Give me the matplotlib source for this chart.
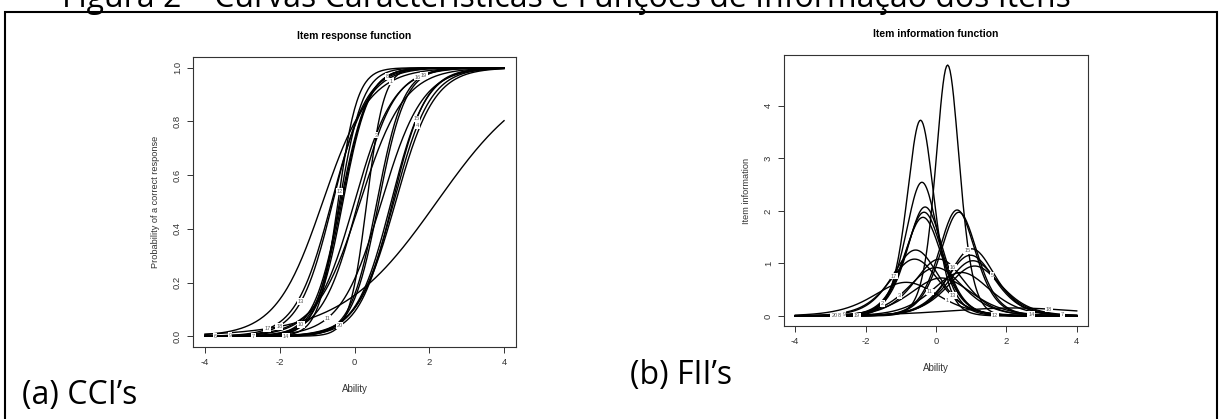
import numpy as np
import matplotlib
matplotlib.use('Agg')
import matplotlib.pyplot as plt
from matplotlib.patches import Rectangle

# 2PL item parameters (peak height a^2/4, peak position b)
items = list(range(1, 21))
a_par = [1.60, 2.88, 1.92, 2.05, 2.15, 3.19, 1.95, 2.74, 1.70, 2.81,
         1.82, 3.86, 2.24, 2.81, 2.26, 2.08, 2.08, 0.78, 2.84, 4.37]
b_par = [-0.85, -0.31, 0.00, 1.05, 0.98, -0.40, 1.10, -0.37, 0.15, -0.34,
         0.72, -0.44, -0.58, 0.65, 1.02, 0.10, -0.61, 2.20, 0.60, 0.33]

# ability where each item number is printed (nan = label hidden in the original)
lab_irf = [0.98, np.nan, 0.57, 1.68, np.nan, -3.73, -2.70, 0.87, -3.33, -1.44,
           -0.72, -0.40, -1.43, -1.83, 1.66, 1.70, -2.33, -2.01, 1.85, -0.40]
lab_iif = [0.32, -1.52, -1.04, np.nan, 1.59, np.nan, 3.60, -2.74, -2.62, np.nan,
           -0.17, 1.67, 0.48, 2.71, 0.89, 0.48, -1.20, 3.21, -2.25, -2.89]

x_ticks = [-4, -2, 0, 2, 4]

fig_title = "Figura 2 – Curvas Características e Funções de Informação dos Itens"

plt.rcParams['font.family'] = ['Liberation Sans', 'DejaVu Sans']

theta = np.linspace(-4, 4, 241)


def prob(t, a, b):
    return 1.0 / (1.0 + np.exp(-a * (t - b)))


def info(t, a, b):
    p = prob(t, a, b)
    return a * a * p * (1 - p)


fig = plt.figure(figsize=(12.22, 4.19), dpi=100)

# outer frame and the caption, which is cut at the top edge as in the scan
fig.add_artist(Rectangle((5 / 1222, -0.05), 1212 / 1222, 1.05 - 12 / 419,
                         transform=fig.transFigure, fill=False, lw=1.5, color='black'))
fig.text(62 / 1222, 1 - 7 / 419, fig_title, fontfamily='Open Sans', fontsize=23,
         va='baseline', ha='left')
fig.text(22 / 1222, 1 - 404 / 419, "(a) CCI’s", fontfamily='Open Sans', fontsize=23,
         va='baseline', ha='left')
fig.text(630 / 1222, 1 - 384 / 419, "(b) FII’s", fontfamily='Open Sans', fontsize=23,
         va='baseline', ha='left')

ax1 = fig.add_axes([193 / 1222, 1 - 347 / 419, 323 / 1222, 290 / 419])
ax2 = fig.add_axes([784 / 1222, 1 - 326 / 419, 304 / 1222, 271 / 419])


def panel(ax, fun, labs, title, ylabel, yticks, yfmt):
    curves = [fun(theta, a, b) for a, b in zip(a_par, b_par)]
    for c in curves:
        ax.plot(theta, c, color='black', lw=1.0, zorder=2)
    for it, a, b, lx in zip(items, a_par, b_par, labs):
        if np.isnan(lx):
            continue
        ax.text(lx, fun(lx, a, b), str(it), fontsize=4, color='#555555',
                ha='center', va='center', zorder=3,
                bbox=dict(boxstyle='square,pad=0.15', fc='white', ec='none'))
    lo = min(c.min() for c in curves)
    hi = max(c.max() for c in curves)
    pad = 0.04 * (hi - lo)
    ax.set_ylim(lo - pad, hi + pad)
    ax.set_xlim(-4.32, 4.32)
    ax.set_xticks(x_ticks)
    ax.set_xticklabels([str(v) for v in x_ticks])
    ax.set_yticks(yticks)
    ax.set_yticklabels([yfmt.format(v) for v in yticks], rotation=90, va='center')
    ax.tick_params(direction='out', length=4, width=0.7, colors='#333333',
                   labelsize=6.8, pad=4)
    for s in ax.spines.values():
        s.set_linewidth(0.8)
        s.set_color('#333333')
    ax.set_title(title, fontsize=7.5, fontweight='bold', pad=13)
    ax.set_xlabel("Ability", fontsize=7, color='#333333', labelpad=12)
    ax.set_ylabel(ylabel, fontsize=6.6, color='#333333', labelpad=9)


panel(ax1, prob, lab_irf, "Item response function",
      "Probability of a correct response", [0.0, 0.2, 0.4, 0.6, 0.8, 1.0], "{:.1f}")
panel(ax2, info, lab_iif, "Item information function",
      "Item information", [0, 1, 2, 3, 4], "{:d}")

fig.savefig("out.png", dpi=100)
